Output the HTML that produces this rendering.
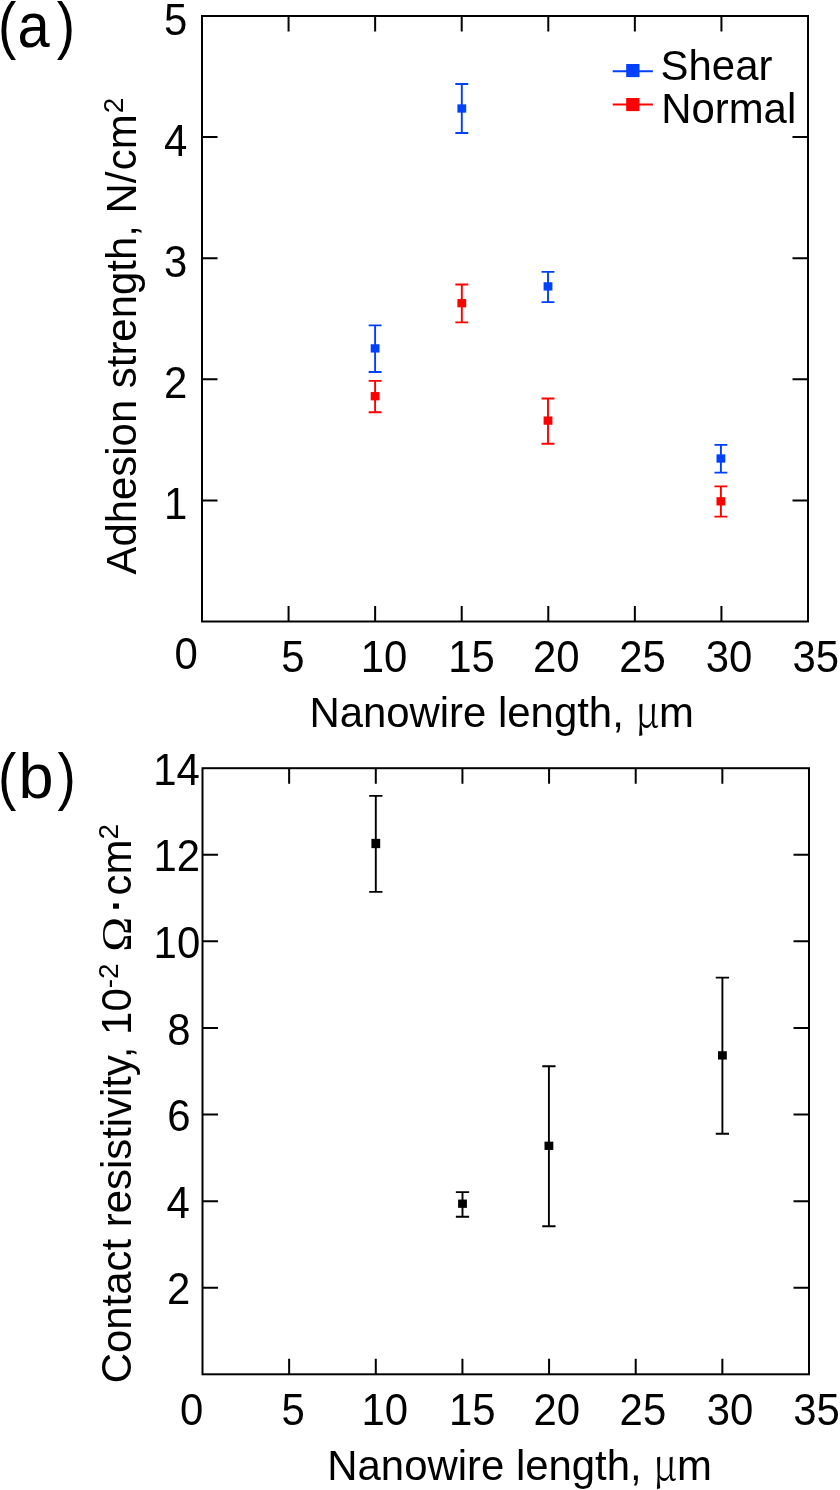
<!DOCTYPE html>
<html><head><meta charset="utf-8"><title>Adhesion strength and contact resistivity vs nanowire length</title>
<style>
html,body{margin:0;padding:0;background:#fff;}
body{width:840px;height:1490px;overflow:hidden;}
svg{display:block;}
text{font-family:'Liberation Sans', Arial, Helvetica, sans-serif;fill:#000;}
</style></head>
<body>
<svg width="840" height="1490" viewBox="0 0 840 1490">
<rect width="840" height="1490" fill="#fff"/>
<rect x="202" y="16" width="606" height="605.5" fill="none" stroke="#000" stroke-width="2"/>
<path d="M288.57 621.5v-15.5M288.57 16v15.5M375.14 621.5v-15.5M375.14 16v15.5M461.71 621.5v-15.5M461.71 16v15.5M548.29 621.5v-15.5M548.29 16v15.5M634.86 621.5v-15.5M634.86 16v15.5M721.43 621.5v-15.5M721.43 16v15.5M202 500.40h15.5M808 500.40h-15.5M202 379.30h15.5M808 379.30h-15.5M202 258.20h15.5M808 258.20h-15.5M202 137.10h15.5M808 137.10h-15.5" stroke="#000" stroke-width="2" fill="none"/>
<text transform="translate(187.3 519.4) scale(1 1.044)" text-anchor="end" font-size="41.9">1</text>
<text transform="translate(187.3 398.3) scale(1 1.044)" text-anchor="end" font-size="41.9">2</text>
<text transform="translate(187.3 277.2) scale(1 1.044)" text-anchor="end" font-size="41.9">3</text>
<text transform="translate(187.3 156.1) scale(1 1.044)" text-anchor="end" font-size="41.9">4</text>
<text transform="translate(187.3 35.0) scale(1 1.044)" text-anchor="end" font-size="41.9">5</text>
<text transform="translate(186.2 669.2) scale(1 1.044)" text-anchor="middle" font-size="41.9">0</text>
<text transform="translate(292.9 671.5) scale(1 1.044)" text-anchor="middle" font-size="41.9">5</text>
<text transform="translate(384 671.5) scale(1 1.044)" text-anchor="middle" font-size="41.9">10</text>
<text transform="translate(471.5 671.5) scale(1 1.044)" text-anchor="middle" font-size="41.9">15</text>
<text transform="translate(556.2 671.5) scale(1 1.044)" text-anchor="middle" font-size="41.9">20</text>
<text transform="translate(642.5 671.5) scale(1 1.044)" text-anchor="middle" font-size="41.9">25</text>
<text transform="translate(729 671.5) scale(1 1.044)" text-anchor="middle" font-size="41.9">30</text>
<text transform="translate(815.8 671.5) scale(1 1.044)" text-anchor="middle" font-size="41.9">35</text>
<path d="M368.65 325.40h12.9M368.65 372.00h12.9M375.10 325.40V372.00" stroke="#0040ff" stroke-width="1.9" fill="none"/>
<rect x="370.70" y="344.25" width="8.8" height="8.3" fill="#0040ff"/>
<path d="M455.35 84.00h12.9M455.35 133.00h12.9M461.80 84.00V133.00" stroke="#0040ff" stroke-width="1.9" fill="none"/>
<rect x="457.40" y="104.35" width="8.8" height="8.3" fill="#0040ff"/>
<path d="M541.55 271.90h12.9M541.55 302.10h12.9M548.00 271.90V302.10" stroke="#0040ff" stroke-width="1.9" fill="none"/>
<rect x="543.60" y="282.25" width="8.8" height="8.3" fill="#0040ff"/>
<path d="M714.45 444.90h12.9M714.45 472.60h12.9M720.90 444.90V472.60" stroke="#0040ff" stroke-width="1.9" fill="none"/>
<rect x="716.50" y="454.35" width="8.8" height="8.3" fill="#0040ff"/>
<path d="M368.65 380.90h12.9M368.65 412.30h12.9M375.10 380.90V412.30" stroke="#ff0000" stroke-width="1.9" fill="none"/>
<rect x="370.70" y="392.05" width="8.8" height="8.3" fill="#ff0000"/>
<path d="M455.35 284.50h12.9M455.35 322.40h12.9M461.80 284.50V322.40" stroke="#ff0000" stroke-width="1.9" fill="none"/>
<rect x="457.40" y="299.05" width="8.8" height="8.3" fill="#ff0000"/>
<path d="M541.55 398.50h12.9M541.55 443.70h12.9M548.00 398.50V443.70" stroke="#ff0000" stroke-width="1.9" fill="none"/>
<rect x="543.60" y="416.45" width="8.8" height="8.3" fill="#ff0000"/>
<path d="M714.45 486.40h12.9M714.45 516.60h12.9M720.90 486.40V516.60" stroke="#ff0000" stroke-width="1.9" fill="none"/>
<rect x="716.50" y="497.15" width="8.8" height="8.3" fill="#ff0000"/>
<path d="M612.7 71.2H652.9" stroke="#0040ff" stroke-width="2"/>
<rect x="626.2" y="64" width="13.3" height="13.1" fill="#0040ff"/>
<path d="M612.7 104.5H652.9" stroke="#ff0000" stroke-width="2"/>
<rect x="626.2" y="98" width="13.3" height="13.1" fill="#ff0000"/>
<text transform="translate(660.6 79.6)" font-size="41.9">Shear</text>
<text transform="translate(661.2 123.2)" font-size="41.9">Normal</text>
<text transform="translate(-2 47)" font-size="63"><tspan textLength="18.3" lengthAdjust="spacingAndGlyphs">(</tspan><tspan dx="1.2" textLength="32.2" lengthAdjust="spacingAndGlyphs">a</tspan><tspan dx="7.0" textLength="18.3" lengthAdjust="spacingAndGlyphs">)</tspan></text>
<text transform="translate(309.4 727)" font-size="41.9">Nanowire length, <tspan font-family="'Noto Serif CJK SC', 'Liberation Serif', serif" textLength="23.6" lengthAdjust="spacingAndGlyphs">&#956;</tspan>m</text>
<text transform="translate(136 574.5) rotate(-90)" font-size="41.9">Adhesion strength, N/<tspan dx="1.5">cm</tspan><tspan font-size="28" dy="-13" dx="1">2</tspan></text>
<rect x="202.5" y="768.2" width="606.5" height="606.0999999999999" fill="none" stroke="#000" stroke-width="2"/>
<path d="M289.14 1374.3v-15.5M289.14 768.2v15.5M375.79 1374.3v-15.5M375.79 768.2v15.5M462.43 1374.3v-15.5M462.43 768.2v15.5M549.07 1374.3v-15.5M549.07 768.2v15.5M635.71 1374.3v-15.5M635.71 768.2v15.5M722.36 1374.3v-15.5M722.36 768.2v15.5M202.5 1287.71h15.5M809 1287.71h-15.5M202.5 1201.13h15.5M809 1201.13h-15.5M202.5 1114.54h15.5M809 1114.54h-15.5M202.5 1027.96h15.5M809 1027.96h-15.5M202.5 941.37h15.5M809 941.37h-15.5M202.5 854.79h15.5M809 854.79h-15.5" stroke="#000" stroke-width="2" fill="none"/>
<text transform="translate(176.5 784.9) scale(1 1.044)" text-anchor="middle" font-size="41.9">14</text>
<text transform="translate(176.7 871.49) scale(1 1.044)" text-anchor="middle" font-size="41.9">12</text>
<text transform="translate(176.9 958.07) scale(1 1.044)" text-anchor="middle" font-size="41.9">10</text>
<text transform="translate(179 1044.66) scale(1 1.044)" text-anchor="middle" font-size="41.9">8</text>
<text transform="translate(178.8 1131.24) scale(1 1.044)" text-anchor="middle" font-size="41.9">6</text>
<text transform="translate(178.2 1217.83) scale(1 1.044)" text-anchor="middle" font-size="41.9">4</text>
<text transform="translate(178.7 1304.41) scale(1 1.044)" text-anchor="middle" font-size="41.9">2</text>
<text transform="translate(191.6 1425) scale(1 1.044)" text-anchor="middle" font-size="41.9">0</text>
<text transform="translate(293.2 1425) scale(1 1.044)" text-anchor="middle" font-size="41.9">5</text>
<text transform="translate(384.7 1425) scale(1 1.044)" text-anchor="middle" font-size="41.9">10</text>
<text transform="translate(472.2 1425) scale(1 1.044)" text-anchor="middle" font-size="41.9">15</text>
<text transform="translate(556.8 1425) scale(1 1.044)" text-anchor="middle" font-size="41.9">20</text>
<text transform="translate(642.9 1425) scale(1 1.044)" text-anchor="middle" font-size="41.9">25</text>
<text transform="translate(730.1 1425) scale(1 1.044)" text-anchor="middle" font-size="41.9">30</text>
<text transform="translate(816.5 1425) scale(1 1.044)" text-anchor="middle" font-size="41.9">35</text>
<path d="M369.15 795.90h13.3M369.15 891.90h13.3M375.80 795.90V891.90" stroke="#000" stroke-width="1.9" fill="none"/>
<rect x="371.40" y="838.85" width="8.8" height="9.3" fill="#000"/>
<path d="M455.85 1192.10h13.3M455.85 1216.80h13.3M462.50 1192.10V1216.80" stroke="#000" stroke-width="1.9" fill="none"/>
<rect x="458.10" y="1199.55" width="8.8" height="8.3" fill="#000"/>
<path d="M542.25 1066.20h13.3M542.25 1226.30h13.3M548.90 1066.20V1226.30" stroke="#000" stroke-width="1.9" fill="none"/>
<rect x="544.50" y="1141.65" width="8.8" height="8.3" fill="#000"/>
<path d="M715.75 977.60h13.3M715.75 1133.70h13.3M722.40 977.60V1133.70" stroke="#000" stroke-width="1.9" fill="none"/>
<rect x="718.00" y="1051.25" width="8.8" height="8.3" fill="#000"/>
<text transform="translate(-2 798.3)" font-size="63"><tspan textLength="18.3" lengthAdjust="spacingAndGlyphs">(</tspan><tspan dx="2.3">b</tspan><tspan dx="3.9" textLength="18.3" lengthAdjust="spacingAndGlyphs">)</tspan></text>
<text transform="translate(327.3 1480.2)" font-size="41.9">Nanowire length, <tspan font-family="'Noto Serif CJK SC', 'Liberation Serif', serif" textLength="23.6" lengthAdjust="spacingAndGlyphs">&#956;</tspan>m</text>
<text transform="translate(131.3 1383.3) rotate(-90)" font-size="41.9">Contact resistivity, 10<tspan font-size="28" dy="-13">-2</tspan><tspan dy="13"> </tspan><tspan font-family="'Liberation Serif', 'Times New Roman', serif" font-size="43" textLength="35" lengthAdjust="spacingAndGlyphs">&#937;</tspan><tspan font-size="55" dx="1.5">&#183;</tspan><tspan dx="1.5">cm</tspan><tspan font-size="28" dy="-13">2</tspan></text>
</svg>
</body></html>
